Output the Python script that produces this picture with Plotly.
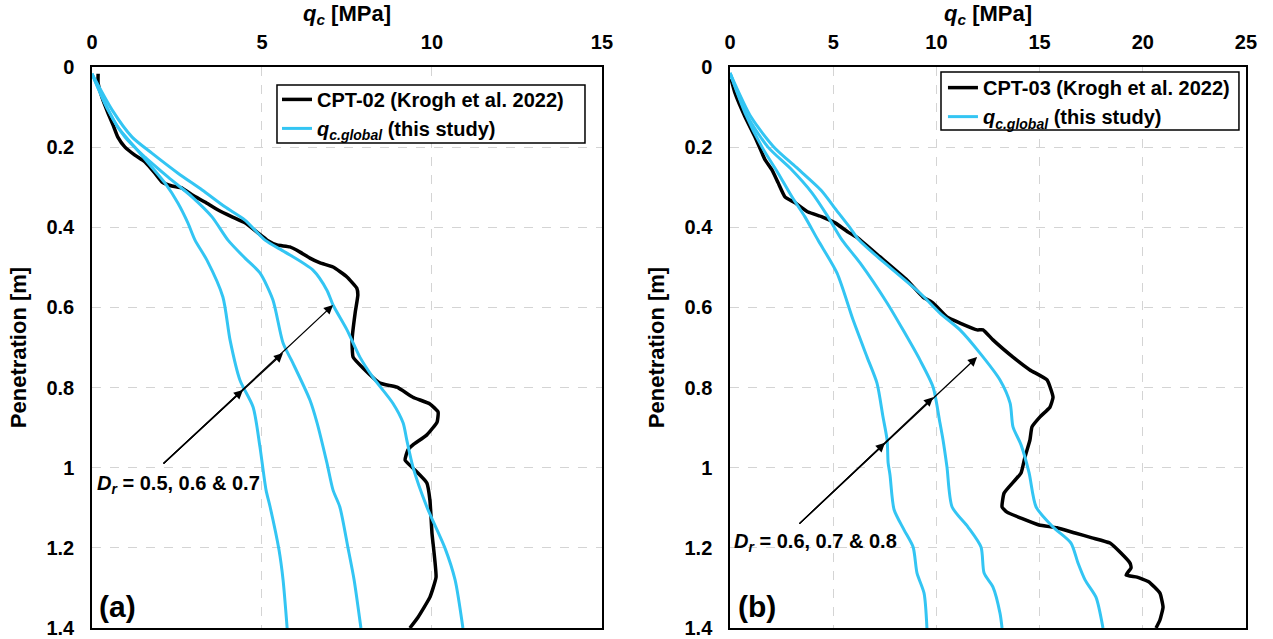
import plotly.graph_objects as go

# ---------------- data ----------------
# Panel (a) CPT-02 measured
a_cpt_q = [0.18, 0.18, 0.29, 0.47, 0.62, 0.76, 0.97, 1.26, 1.56, 1.85, 2.06, 2.35, 2.65, 2.94, 3.32, 3.71,
           4.12, 4.5, 4.88, 5.15, 5.44, 5.82, 6.12, 6.41, 6.71, 7.09, 7.5, 7.79, 7.82, 7.74, 7.65, 7.68,
           7.97, 8.47, 8.97, 9.44, 9.94, 10.18, 10.15, 9.85, 9.44, 9.29, 9.21, 9.44, 9.85, 9.94, 10.0,
           10.12, 9.94, 9.59, 9.35]
a_cpt_z = [0.017, 0.04, 0.075, 0.115, 0.145, 0.175, 0.2, 0.22, 0.237, 0.265, 0.287, 0.297, 0.302, 0.319,
           0.337, 0.357, 0.374, 0.389, 0.414, 0.432, 0.444, 0.449, 0.462, 0.477, 0.489, 0.499, 0.524, 0.552,
           0.569, 0.614, 0.681, 0.724, 0.751, 0.789, 0.799, 0.824, 0.841, 0.861, 0.886, 0.918, 0.943, 0.956,
           0.981, 1.001, 1.038, 1.081, 1.163, 1.273, 1.323, 1.373, 1.4]

# Panel (a) q_c.global, Dr = 0.5, 0.6, 0.7
a_dr05_q = [0, 0.38, 0.76, 1.26, 1.76, 2.15, 2.53, 2.82, 3.03, 3.38, 3.85, 4.06, 4.35, 4.74, 4.94, 5.12,
            5.24, 5.5, 5.62, 5.74]
a_dr05_z = [0.017, 0.09, 0.15, 0.2, 0.25, 0.29, 0.34, 0.389, 0.432, 0.482, 0.574, 0.681, 0.781, 0.849,
            0.948, 1.056, 1.098, 1.205, 1.28, 1.4]
a_dr06_q = [0, 0.47, 0.97, 1.56, 2.24, 2.94, 3.53, 4.0, 4.5, 4.94, 5.32, 5.62, 5.91, 6.41, 6.62, 6.91,
            7.09, 7.29, 7.53, 7.71, 7.91]
a_dr06_z = [0.017, 0.107, 0.175, 0.225, 0.275, 0.324, 0.374, 0.432, 0.477, 0.514, 0.581, 0.689, 0.739,
            0.831, 0.888, 0.988, 1.056, 1.098, 1.2, 1.28, 1.4]
a_dr07_q = [0, 0.59, 1.18, 1.76, 2.53, 3.24, 3.91, 4.5, 5.09, 5.68, 6.5, 6.91, 7.09, 7.5, 7.88, 8.26,
            8.85, 9.15, 9.26, 9.44, 9.85, 10.38, 10.68, 10.91]
a_dr07_z = [0.017, 0.107, 0.175, 0.215, 0.265, 0.307, 0.349, 0.382, 0.432, 0.462, 0.507, 0.557, 0.594,
            0.656, 0.724, 0.774, 0.839, 0.888, 0.931, 0.998, 1.098, 1.2, 1.28, 1.4]

# Panel (b) CPT-03 measured
b_cpt_q = [0.05, 0.24, 0.73, 1.21, 1.55, 1.7, 2.03, 2.33, 2.66, 3.15, 3.78, 4.46, 5.09, 5.72, 6.2, 7.27,
           8.58, 9.35, 9.84, 10.51, 11.14, 11.97, 12.26, 12.74, 13.71, 14.53, 15.36, 15.65, 15.5, 15.02,
           14.63, 14.53, 14.29, 14.1, 13.28, 13.18, 13.42, 14.1, 14.97, 15.84, 16.72, 17.54, 18.41, 18.94,
           19.38, 19.43, 19.19, 19.72, 20.3, 20.83, 20.98, 20.83, 20.64]
b_cpt_z = [0.03, 0.065, 0.125, 0.175, 0.215, 0.232, 0.257, 0.289, 0.324, 0.339, 0.362, 0.374, 0.389,
           0.412, 0.427, 0.474, 0.532, 0.574, 0.589, 0.624, 0.639, 0.656, 0.656, 0.681, 0.724, 0.756, 0.781,
           0.824, 0.849, 0.873, 0.898, 0.931, 0.973, 1.013, 1.063, 1.098, 1.111, 1.126, 1.143, 1.15, 1.163,
           1.175, 1.188, 1.213, 1.238, 1.25, 1.268, 1.273, 1.285, 1.313, 1.348, 1.38, 1.4]

# Panel (b) q_c.global, Dr = 0.6, 0.7, 0.8
b_dr06_q = [0, 0.73, 1.55, 2.33, 3.0, 3.63, 4.26, 5.18, 5.96, 6.64, 7.12, 7.41, 7.61, 7.66, 7.75, 7.95,
            8.43, 8.87, 9.06, 9.4, 9.54]
b_dr06_z = [0.015, 0.115, 0.2, 0.265, 0.324, 0.374, 0.432, 0.514, 0.631, 0.724, 0.789, 0.873, 0.931,
            0.988, 1.018, 1.105, 1.155, 1.198, 1.263, 1.313, 1.4]
b_dr07_q = [0, 0.87, 1.84, 3.0, 3.97, 4.75, 5.43, 6.3, 7.61, 8.38, 9.2, 9.84, 10.17, 10.32, 10.51, 10.76,
            11.53, 12.16, 12.31, 12.74, 13.08, 13.18]
b_dr07_z = [0.015, 0.125, 0.2, 0.257, 0.314, 0.374, 0.432, 0.489, 0.589, 0.656, 0.731, 0.799, 0.888,
            0.931, 0.998, 1.098, 1.148, 1.198, 1.263, 1.298, 1.363, 1.4]
b_dr08_q = [0, 1.02, 2.13, 3.2, 4.4, 5.15, 5.8, 6.25, 7.15, 9.2, 10.17, 11.14, 12.11, 13.08, 13.57, 13.71,
            14.1, 14.49, 14.83, 15.65, 16.52, 16.86, 17.2, 17.73, 18.07]
b_dr08_z = [0.015, 0.125, 0.2, 0.25, 0.307, 0.357, 0.4, 0.432, 0.474, 0.564, 0.614, 0.656, 0.714, 0.781,
            0.839, 0.898, 0.943, 1.013, 1.098, 1.148, 1.188, 1.238, 1.28, 1.323, 1.4]

# Arrow (tail first, then arrow-head points) in data units
a_arrow_q = [2.06, 4.44, 5.62, 7.09]
a_arrow_z = [0.993, 0.806, 0.714, 0.594]
b_arrow_q = [3.29, 7.51, 9.84, 11.97]
b_arrow_z = [1.143, 0.938, 0.824, 0.724]

legend_cpt_a = "CPT-02 (Krogh et al. 2022)"
legend_cpt_b = "CPT-03 (Krogh et al. 2022)"
legend_global = "<i>q<sub>c.global</sub></i> (this study)"
dr_text_a = "<i>D<sub>r</sub></i> = 0.5, 0.6 &amp; 0.7"
dr_text_b = "<i>D<sub>r</sub></i> = 0.6, 0.7 &amp; 0.8"

# ---------------- styling ----------------
FONT = "Liberation Sans, Arial, sans-serif"
BLACK = "#000000"
BLUE = "#33C5F3"

fig = go.Figure()

def add_panel(xa, ya, legend, cpt_q, cpt_z, cpt_name, curves):
    fig.add_trace(go.Scatter(x=cpt_q, y=cpt_z, mode="lines", name=cpt_name,
                             line=dict(color=BLACK, width=3.5, shape="spline", smoothing=0.4),
                             xaxis=xa, yaxis=ya, legend=legend, showlegend=True))
    for i, (q, z) in enumerate(curves):
        fig.add_trace(go.Scatter(x=q, y=z, mode="lines", name=legend_global,
                                 line=dict(color=BLUE, width=3, shape="spline", smoothing=0.7),
                                 xaxis=xa, yaxis=ya, legend=legend, showlegend=(i == 0)))

add_panel("x", "y", "legend", a_cpt_q, a_cpt_z, legend_cpt_a,
          [(a_dr05_q, a_dr05_z), (a_dr06_q, a_dr06_z), (a_dr07_q, a_dr07_z)])
add_panel("x2", "y2", "legend2", b_cpt_q, b_cpt_z, legend_cpt_b,
          [(b_dr06_q, b_dr06_z), (b_dr07_q, b_dr07_z), (b_dr08_q, b_dr08_z)])

tickfont = dict(family=FONT, size=20, color=BLACK, weight="bold")
titlefont = dict(family=FONT, size=22, color=BLACK, weight="bold")

def xaxis_cfg(rng, dom):
    return dict(domain=dom, range=rng, dtick=5, side="top", showline=True, mirror=True,
                linecolor=BLACK, linewidth=1.5, showgrid=True, gridcolor="#d4d4d4",
                griddash="dash", gridwidth=1, zeroline=False, ticks="", tickfont=tickfont,
                ticklabelstandoff=8,
                title=dict(text="<i>q<sub>c</sub></i> [MPa]", font=titlefont, standoff=4))

def yaxis_cfg(anchor):
    return dict(range=[1.4, 0], dtick=0.2, tick0=0, showline=True, mirror=True,
                linecolor=BLACK, linewidth=1.5, showgrid=True, gridcolor="#d4d4d4",
                griddash="dash", gridwidth=1, zeroline=False, ticks="", tickfont=tickfont,
                ticklabelstandoff=12, anchor=anchor,
                title=dict(text="Penetration [m]", font=titlefont, standoff=14))

legfont = dict(family=FONT, size=20, color=BLACK, weight="bold")
d1 = [0, 0.4419]
d2 = [0.5529, 1.0]
fig.update_layout(
    width=1273, height=639,
    margin=dict(l=92, r=27, t=67, b=11, autoexpand=False),
    paper_bgcolor="white", plot_bgcolor="white",
    font=dict(family=FONT, color=BLACK, weight="bold"),
    xaxis=dict(xaxis_cfg([0, 15], d1), anchor="y"),
    yaxis=yaxis_cfg("x"),
    xaxis2=dict(xaxis_cfg([0, 25], d2), anchor="y2"),
    yaxis2=yaxis_cfg("x2"),
    legend=dict(x=0.1603, y=0.977, xanchor="left", yanchor="top", bgcolor="rgba(0,0,0,0)",
                borderwidth=0, font=legfont, itemwidth=30, tracegroupgap=0),
    legend2=dict(x=0.7374, y=0.998, xanchor="left", yanchor="top", bgcolor="rgba(0,0,0,0)",
                 borderwidth=0, font=legfont, itemwidth=30, tracegroupgap=0),
    showlegend=True,
    shapes=[
        dict(type="rect", xref="paper", yref="paper", x0=0.1603, x1=0.4272, y0=0.8645, y1=0.9679,
             line=dict(color=BLACK, width=1.5), fillcolor="white", layer="above"),
        dict(type="rect", xref="paper", yref="paper", x0=0.7357, x1=0.9939, y0=0.8877, y1=0.9911,
             line=dict(color=BLACK, width=1.5), fillcolor="white", layer="above"),
    ],
)

annos = []
def add_arrows(xr, yr, qs, zs):
    tail_q, tail_z = qs[0], zs[0]
    for hq, hz in zip(qs[1:], zs[1:]):
        annos.append(dict(x=hq, y=hz, ax=tail_q, ay=tail_z, xref=xr, yref=yr,
                          axref=xr, ayref=yr, text="", showarrow=True, arrowhead=2,
                          arrowsize=1.4, arrowwidth=1.3, arrowcolor=BLACK, standoff=0))

add_arrows("x", "y", a_arrow_q, a_arrow_z)
add_arrows("x2", "y2", b_arrow_q, b_arrow_z)

annofont = dict(family=FONT, size=20, color=BLACK, weight="bold")
labfont = dict(family=FONT, size=30, color=BLACK, weight="bold")
annos += [
    dict(text=dr_text_a, x=0.006, y=0.255, xref="x domain", yref="y domain", xanchor="left",
         yanchor="middle", showarrow=False, font=annofont),
    dict(text=dr_text_b, x=0.004, y=0.152, xref="x2 domain", yref="y2 domain", xanchor="left",
         yanchor="middle", showarrow=False, font=annofont),
    dict(text="(a)", x=0.01, y=0.005, xref="x domain", yref="y domain", xanchor="left",
         yanchor="bottom", showarrow=False, font=labfont),
    dict(text="(b)", x=0.012, y=0.005, xref="x2 domain", yref="y2 domain", xanchor="left",
         yanchor="bottom", showarrow=False, font=labfont),
]
fig.update_layout(annotations=annos)

fig.write_html("out.html")
